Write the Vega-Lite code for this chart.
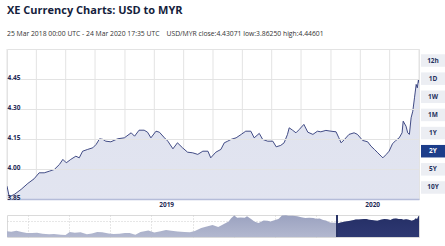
{
  "$schema": "https://vega.github.io/schema/vega-lite/v6.json",
  "padding": {"left": 6, "top": 5, "right": 0, "bottom": 0},
  "background": "white",
  "config": {"font": "Open Sans", "view": {"stroke": null}},
  "title": {
    "text": "XE Currency Charts: USD to MYR",
    "subtitle": "25 Mar 2018 00:00 UTC - 24 Mar 2020 17:35 UTC\u00a0\u00a0\u00a0\u00a0USD/MYR close:4.43071 low:3.86250 high:4.44601",
    "anchor": "start",
    "frame": "group",
    "font": "Open Sans",
    "fontSize": 11,
    "fontWeight": "bold",
    "color": "#151e3d",
    "subtitleFont": "Open Sans",
    "subtitleFontSize": 6.8,
    "subtitleColor": "#333333",
    "subtitlePadding": 15,
    "offset": 10
  },
  "datasets": {
    "usd": [
      {"date":"2018-03-25","rate":3.914},{"date":"2018-03-29","rate":3.861},{"date":"2018-04-07","rate":3.873},{"date":"2018-04-19","rate":3.898},
      {"date":"2018-05-01","rate":3.928},{"date":"2018-05-12","rate":3.951},{"date":"2018-05-21","rate":3.981},{"date":"2018-05-30","rate":3.981},
      {"date":"2018-06-08","rate":3.989},{"date":"2018-06-17","rate":3.998},{"date":"2018-06-26","rate":4.023},{"date":"2018-07-02","rate":4.048},
      {"date":"2018-07-08","rate":4.031},{"date":"2018-07-16","rate":4.048},{"date":"2018-07-25","rate":4.064},{"date":"2018-07-31","rate":4.056},
      {"date":"2018-08-06","rate":4.089},{"date":"2018-08-15","rate":4.098},{"date":"2018-08-24","rate":4.106},{"date":"2018-08-30","rate":4.123},
      {"date":"2018-09-05","rate":4.151},{"date":"2018-09-11","rate":4.148},{"date":"2018-09-16","rate":4.139},{"date":"2018-09-25","rate":4.136},
      {"date":"2018-10-07","rate":4.151},{"date":"2018-10-19","rate":4.156},{"date":"2018-10-31","rate":4.181},{"date":"2018-11-06","rate":4.164},
      {"date":"2018-11-14","rate":4.194},{"date":"2018-11-23","rate":4.194},{"date":"2018-11-29","rate":4.184},{"date":"2018-12-05","rate":4.156},
      {"date":"2018-12-14","rate":4.189},{"date":"2018-12-20","rate":4.184},{"date":"2018-12-29","rate":4.156},{"date":"2019-01-04","rate":4.139},
      {"date":"2019-01-13","rate":4.101},{"date":"2019-01-21","rate":4.131},{"date":"2019-01-30","rate":4.106},{"date":"2019-02-08","rate":4.084},
      {"date":"2019-02-17","rate":4.081},{"date":"2019-02-26","rate":4.073},{"date":"2019-03-07","rate":4.089},{"date":"2019-03-16","rate":4.089},
      {"date":"2019-03-21","rate":4.056},{"date":"2019-03-30","rate":4.084},{"date":"2019-04-08","rate":4.098},{"date":"2019-04-14","rate":4.131},
      {"date":"2019-04-20","rate":4.139},{"date":"2019-04-26","rate":4.148},{"date":"2019-05-05","rate":4.156},{"date":"2019-05-14","rate":4.173},
      {"date":"2019-05-22","rate":4.189},{"date":"2019-05-31","rate":4.189},{"date":"2019-06-06","rate":4.156},{"date":"2019-06-15","rate":4.178},
      {"date":"2019-06-21","rate":4.148},{"date":"2019-06-30","rate":4.139},{"date":"2019-07-09","rate":4.139},{"date":"2019-07-15","rate":4.111},
      {"date":"2019-07-23","rate":4.118},{"date":"2019-07-29","rate":4.131},{"date":"2019-08-04","rate":4.173},{"date":"2019-08-07","rate":4.206},
      {"date":"2019-08-13","rate":4.194},{"date":"2019-08-19","rate":4.181},{"date":"2019-08-25","rate":4.198},{"date":"2019-09-02","rate":4.223},
      {"date":"2019-09-09","rate":4.184},{"date":"2019-09-18","rate":4.173},{"date":"2019-09-26","rate":4.189},{"date":"2019-10-02","rate":4.186},
      {"date":"2019-10-11","rate":4.193},{"date":"2019-10-20","rate":4.189},{"date":"2019-10-29","rate":4.186},{"date":"2019-11-03","rate":4.156},
      {"date":"2019-11-07","rate":4.131},{"date":"2019-11-13","rate":4.148},{"date":"2019-11-21","rate":4.173},{"date":"2019-11-30","rate":4.181},
      {"date":"2019-12-06","rate":4.173},{"date":"2019-12-15","rate":4.143},{"date":"2019-12-24","rate":4.136},{"date":"2019-12-30","rate":4.114},
      {"date":"2020-01-05","rate":4.098},{"date":"2020-01-11","rate":4.081},{"date":"2020-01-17","rate":4.064},{"date":"2020-01-20","rate":4.056},
      {"date":"2020-01-26","rate":4.073},{"date":"2020-01-31","rate":4.089},{"date":"2020-02-06","rate":4.126},{"date":"2020-02-12","rate":4.143},
      {"date":"2020-02-18","rate":4.156},{"date":"2020-02-23","rate":4.181},{"date":"2020-02-25","rate":4.239},{"date":"2020-03-01","rate":4.214},
      {"date":"2020-03-04","rate":4.181},{"date":"2020-03-07","rate":4.173},{"date":"2020-03-10","rate":4.256},{"date":"2020-03-13","rate":4.289},
      {"date":"2020-03-16","rate":4.356},{"date":"2020-03-19","rate":4.423},{"date":"2020-03-21","rate":4.406},{"date":"2020-03-23","rate":4.446},
      {"date":"2020-03-24","rate":4.431}
    ],
    "vgrid": [
      {"date":"2018-03-25"},{"date":"2018-05-16"},{"date":"2018-07-07"},{"date":"2018-08-28"},{"date":"2018-10-20"},
      {"date":"2018-12-11"},{"date":"2019-02-01"},{"date":"2019-03-25"},{"date":"2019-05-16"},{"date":"2019-07-07"},
      {"date":"2019-08-28"},{"date":"2019-10-20"},{"date":"2019-12-11"},{"date":"2020-02-01"},{"date":"2020-03-24"}
    ],
    "nav": [
      {"date":"2010-03-24","rate":3.25},{"date":"2010-05-01","rate":3.20},{"date":"2010-06-15","rate":3.28},{"date":"2010-08-01","rate":3.18},
      {"date":"2010-09-15","rate":3.10},{"date":"2010-11-01","rate":3.10},{"date":"2010-12-15","rate":3.12},{"date":"2011-02-01","rate":3.05},
      {"date":"2011-04-01","rate":3.02},{"date":"2011-05-15","rate":3.03},{"date":"2011-07-15","rate":2.98},{"date":"2011-08-25","rate":2.96},
      {"date":"2011-10-01","rate":3.18},{"date":"2011-11-15","rate":3.12},{"date":"2012-01-05","rate":3.16},{"date":"2012-03-01","rate":3.02},
      {"date":"2012-04-15","rate":3.07},{"date":"2012-06-01","rate":3.18},{"date":"2012-07-15","rate":3.16},{"date":"2012-09-10","rate":3.08},
      {"date":"2012-10-25","rate":3.04},{"date":"2012-12-15","rate":3.05},{"date":"2013-02-01","rate":3.10},{"date":"2013-03-15","rate":3.11},
      {"date":"2013-05-05","rate":2.98},{"date":"2013-06-20","rate":3.18},{"date":"2013-08-28","rate":3.30},{"date":"2013-10-20","rate":3.15},
      {"date":"2013-12-15","rate":3.25},{"date":"2014-02-01","rate":3.35},{"date":"2014-03-20","rate":3.28},{"date":"2014-05-15","rate":3.23},
      {"date":"2014-07-15","rate":3.18},{"date":"2014-09-01","rate":3.16},{"date":"2014-10-15","rate":3.27},{"date":"2014-12-10","rate":3.50},
      {"date":"2015-01-20","rate":3.60},{"date":"2015-03-20","rate":3.72},{"date":"2015-05-10","rate":3.57},{"date":"2015-06-25","rate":3.78},
      {"date":"2015-08-10","rate":4.00},{"date":"2015-09-01","rate":4.25},{"date":"2015-09-29","rate":4.46},{"date":"2015-10-25","rate":4.28},
      {"date":"2015-11-25","rate":4.30},{"date":"2015-12-31","rate":4.29},{"date":"2016-01-20","rate":4.40},{"date":"2016-02-25","rate":4.20},
      {"date":"2016-03-25","rate":4.00},{"date":"2016-05-01","rate":3.88},{"date":"2016-06-15","rate":4.07},{"date":"2016-07-20","rate":4.05},
      {"date":"2016-08-15","rate":4.00},{"date":"2016-09-25","rate":4.12},{"date":"2016-10-25","rate":4.19},{"date":"2016-11-25","rate":4.47},
      {"date":"2016-12-31","rate":4.49},{"date":"2017-01-20","rate":4.45},{"date":"2017-03-01","rate":4.44},{"date":"2017-04-10","rate":4.41},
      {"date":"2017-05-15","rate":4.33},{"date":"2017-06-20","rate":4.27},{"date":"2017-07-25","rate":4.29},{"date":"2017-08-30","rate":4.27},
      {"date":"2017-09-25","rate":4.21},{"date":"2017-10-25","rate":4.23},{"date":"2017-11-25","rate":4.12},{"date":"2017-12-20","rate":4.08},
      {"date":"2018-01-25","rate":3.92},{"date":"2018-02-25","rate":3.91},{"date":"2018-03-25","rate":3.91},
      {"date":"2018-04-07","rate":3.87},{"date":"2018-05-01","rate":3.93},{"date":"2018-05-30","rate":3.98},{"date":"2018-06-26","rate":4.02},
      {"date":"2018-07-25","rate":4.06},{"date":"2018-08-15","rate":4.10},{"date":"2018-09-11","rate":4.15},{"date":"2018-10-07","rate":4.15},
      {"date":"2018-10-31","rate":4.18},{"date":"2018-11-23","rate":4.19},{"date":"2018-12-14","rate":4.19},{"date":"2019-01-04","rate":4.14},
      {"date":"2019-01-30","rate":4.11},{"date":"2019-02-26","rate":4.07},{"date":"2019-03-21","rate":4.06},{"date":"2019-04-20","rate":4.14},
      {"date":"2019-05-22","rate":4.19},{"date":"2019-06-15","rate":4.18},{"date":"2019-07-15","rate":4.11},{"date":"2019-08-07","rate":4.21},
      {"date":"2019-09-02","rate":4.22},{"date":"2019-09-26","rate":4.19},{"date":"2019-10-20","rate":4.19},{"date":"2019-11-07","rate":4.13},
      {"date":"2019-11-30","rate":4.18},{"date":"2019-12-24","rate":4.14},{"date":"2020-01-20","rate":4.06},{"date":"2020-02-12","rate":4.14},
      {"date":"2020-02-25","rate":4.24},{"date":"2020-03-07","rate":4.17},{"date":"2020-03-16","rate":4.36},{"date":"2020-03-24","rate":4.45}
    ],
    "ranges": [
      {"label":"12h","state":"off"},{"label":"1D","state":"off"},{"label":"1W","state":"off"},{"label":"1M","state":"off"},
      {"label":"1Y","state":"off"},{"label":"2Y","state":"on"},{"label":"5Y","state":"off"},{"label":"10Y","state":"off"}
    ]
  },
  "vconcat": [
    {
      "hconcat": [
        {
          "width": 412,
          "height": 150,
          "view": {"stroke": "#e3e3e3", "strokeWidth": 1},
          "layer": [
            {
              "data": {"name": "vgrid"},
              "mark": {"type": "rule", "color": "#e3e3e3", "strokeWidth": 1},
              "encoding": {
                "x": {"field": "date", "type": "temporal", "scale": {"type": "utc", "nice": false},
                  "axis": {"values": [{"year": 2019, "month": 1, "date": 1, "utc": true}, {"year": 2020, "month": 1, "date": 1, "utc": true}],
                    "format": "%Y", "labelDx": 26, "grid": false, "ticks": false, "tickSize": 0, "domainColor": "#b5bcd9", "domainWidth": 1.5,
                    "labelFont": "Open Sans", "labelFontSize": 6.5, "labelFontWeight": "bold", "labelColor": "#1f2a55", "labelPadding": 2,
                    "labelFlush": false, "title": null, "zindex": 1}}
              }
            },
            {
              "data": {"name": "usd"},
              "mark": {"type": "area", "clip": true,
                "color": {"gradient": "linear", "x1": 0, "y1": 0, "x2": 0, "y2": 1,
                  "stops": [{"offset": 0, "color": "#dfe2ef"}, {"offset": 0.45, "color": "#e8eaf3"}, {"offset": 1, "color": "#fafbfd"}]}},
              "encoding": {
                "x": {"field": "date", "type": "temporal", "scale": {"type": "utc", "nice": false},
                  "axis": {"values": [{"year": 2019, "month": 1, "date": 1, "utc": true}, {"year": 2020, "month": 1, "date": 1, "utc": true}],
                    "format": "%Y", "labelDx": 26, "grid": false, "ticks": false, "tickSize": 0, "domainColor": "#b5bcd9", "domainWidth": 1.5,
                    "labelFont": "Open Sans", "labelFontSize": 6.5, "labelFontWeight": "bold", "labelColor": "#1f2a55", "labelPadding": 2,
                    "labelFlush": false, "title": null, "zindex": 1}},
                "y": {"field": "rate", "type": "quantitative", "scale": {"domain": [3.85, 4.6], "zero": false, "nice": false},
                  "axis": {"values": [3.85, 4.0, 4.15, 4.3, 4.45], "format": ".2f", "grid": true, "gridColor": "#e3e3e3",
                    "ticks": false, "tickSize": 0, "domain": false, "labelAlign": "left", "labelBaseline": "alphabetic",
                    "labelDx": 1, "labelDy": -2, "labelPadding": 0, "labelFont": "Open Sans", "labelFontSize": 6.5,
                    "labelFontWeight": "bold", "labelColor": "#1f2a55", "title": null, "zindex": 1}}
              }
            },
            {
              "data": {"name": "usd"},
              "mark": {"type": "line", "color": "#2e3978", "strokeWidth": 0.9, "clip": true},
              "encoding": {
                "x": {"field": "date", "type": "temporal", "scale": {"type": "utc", "nice": false},
                  "axis": {"values": [{"year": 2019, "month": 1, "date": 1, "utc": true}, {"year": 2020, "month": 1, "date": 1, "utc": true}],
                    "format": "%Y", "labelDx": 26, "grid": false, "ticks": false, "tickSize": 0, "domainColor": "#b5bcd9", "domainWidth": 1.5,
                    "labelFont": "Open Sans", "labelFontSize": 6.5, "labelFontWeight": "bold", "labelColor": "#1f2a55", "labelPadding": 2,
                    "labelFlush": false, "title": null, "zindex": 1}},
                "y": {"field": "rate", "type": "quantitative", "scale": {"domain": [3.85, 4.6], "zero": false, "nice": false},
                  "axis": {"values": [3.85, 4.0, 4.15, 4.3, 4.45], "format": ".2f", "grid": true, "gridColor": "#e3e3e3",
                    "ticks": false, "tickSize": 0, "domain": false, "labelAlign": "left", "labelBaseline": "alphabetic",
                    "labelDx": 1, "labelDy": -2, "labelPadding": 0, "labelFont": "Open Sans", "labelFontSize": 6.5,
                    "labelFontWeight": "bold", "labelColor": "#1f2a55", "title": null, "zindex": 1}}
              }
            }
          ]
        },
        {
          "width": 24,
          "height": 150,
          "data": {"name": "ranges"},
          "layer": [
            {
              "mark": {"type": "rect"},
              "encoding": {
                "y": {"field": "label", "type": "ordinal", "sort": null, "axis": null,
                  "scale": {"paddingInner": 0.31, "paddingOuter": 0.29}},
                "color": {"field": "state", "type": "nominal", "legend": null,
                  "scale": {"domain": ["off", "on"], "range": ["#eceef3", "#1c3d8a"]}}
              }
            },
            {
              "mark": {"type": "text", "font": "Open Sans", "fontSize": 6.5, "fontWeight": "bold"},
              "encoding": {
                "y": {"field": "label", "type": "ordinal", "sort": null, "axis": null,
                  "scale": {"paddingInner": 0.31, "paddingOuter": 0.29}},
                "text": {"field": "label"},
                "color": {"field": "state", "type": "nominal", "legend": null,
                  "scale": {"domain": ["off", "on"], "range": ["#26315e", "#ffffff"]}}
              }
            }
          ],
          "resolve": {"scale": {"color": "independent"}}
        }
      ],
      "spacing": 1
    },
    {
      "width": 412,
      "height": 22,
      "view": {"stroke": "#dadada", "strokeWidth": 1},
      "data": {"name": "nav"},
      "layer": [
        {
          "mark": {"type": "area", "clip": true,
            "color": {"gradient": "linear", "x1": 0, "y1": 0, "x2": 0, "y2": 1,
              "stops": [{"offset": 0, "color": "#9ba2c0"}, {"offset": 1, "color": "#d9dce8"}]}},
          "encoding": {
            "x": {"field": "date", "type": "temporal", "scale": {"type": "utc", "nice": false},
              "axis": {"values": [
                {"year": 2010, "month": 9, "date": 24, "utc": true}, {"year": 2011, "month": 3, "date": 24, "utc": true},
                {"year": 2011, "month": 9, "date": 24, "utc": true}, {"year": 2012, "month": 3, "date": 24, "utc": true},
                {"year": 2012, "month": 9, "date": 24, "utc": true}, {"year": 2013, "month": 3, "date": 24, "utc": true},
                {"year": 2013, "month": 9, "date": 24, "utc": true}, {"year": 2014, "month": 3, "date": 24, "utc": true},
                {"year": 2014, "month": 9, "date": 24, "utc": true}, {"year": 2015, "month": 3, "date": 24, "utc": true},
                {"year": 2015, "month": 9, "date": 24, "utc": true}, {"year": 2016, "month": 3, "date": 24, "utc": true},
                {"year": 2016, "month": 9, "date": 24, "utc": true}, {"year": 2017, "month": 3, "date": 24, "utc": true},
                {"year": 2017, "month": 9, "date": 24, "utc": true}],
                "labels": false, "ticks": false, "domain": false, "grid": true, "gridDash": [1, 2], "gridColor": "#cfcfcf", "title": null}},
            "y": {"field": "rate", "type": "quantitative", "scale": {"domain": [2.8, 4.5], "zero": false, "nice": false},
              "axis": {"values": [4.0], "labels": false, "ticks": false, "domain": false, "grid": true, "gridDash": [1, 2], "gridColor": "#cfcfcf", "title": null}}
          }
        },
        {
          "transform": [{"filter": {"field": "date", "timeUnit": "utcyearmonthdate", "gte": {"year": 2018, "month": 3, "date": 25, "utc": true}}}],
          "mark": {"type": "area", "clip": true,
            "color": {"gradient": "linear", "x1": 0, "y1": 0, "x2": 0, "y2": 1,
              "stops": [{"offset": 0, "color": "#252f66"}, {"offset": 1, "color": "#3d4987"}]}},
          "encoding": {
            "x": {"field": "date", "type": "temporal", "scale": {"type": "utc", "nice": false}},
            "y": {"field": "rate", "type": "quantitative", "scale": {"domain": [2.8, 4.5], "zero": false, "nice": false}}
          }
        },
        {
          "mark": {"type": "rule", "color": "#2a3466", "strokeWidth": 1.2},
          "encoding": {
            "x": {"datum": {"year": 2018, "month": 3, "date": 25, "utc": true}, "type": "temporal"}
          }
        }
      ]
    }
  ],
  "spacing": 5
}
